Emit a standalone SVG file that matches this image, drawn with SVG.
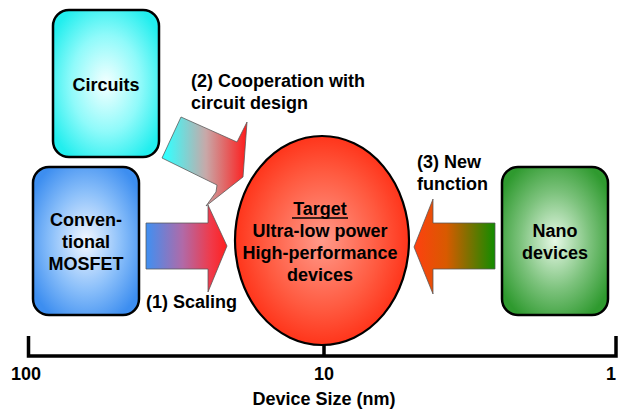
<svg xmlns="http://www.w3.org/2000/svg" width="619" height="410" viewBox="0 0 619 410">
  <defs>
    <radialGradient id="gCyan" cx="50%" cy="50%" r="60%">
      <stop offset="0" stop-color="#f4ffff"/>
      <stop offset="0.55" stop-color="#8ffafa"/>
      <stop offset="1" stop-color="#22eeee"/>
    </radialGradient>
    <radialGradient id="gBlue" cx="50%" cy="50%" r="60%">
      <stop offset="0" stop-color="#f2f7ff"/>
      <stop offset="0.55" stop-color="#8cc0fa"/>
      <stop offset="1" stop-color="#3d8ef0"/>
    </radialGradient>
    <radialGradient id="gGreen" cx="50%" cy="50%" r="60%">
      <stop offset="0" stop-color="#e6f8e6"/>
      <stop offset="0.55" stop-color="#7cc27c"/>
      <stop offset="1" stop-color="#2f9a2f"/>
    </radialGradient>
    <radialGradient id="gRed" cx="50%" cy="50%" r="55%">
      <stop offset="0" stop-color="#ff9a8a"/>
      <stop offset="0.6" stop-color="#ff5a40"/>
      <stop offset="1" stop-color="#ff2a10"/>
    </radialGradient>
    <linearGradient id="gScale" x1="146" y1="0" x2="227" y2="0" gradientUnits="userSpaceOnUse">
      <stop offset="0" stop-color="#3f90f2"/>
      <stop offset="0.45" stop-color="#b06aa8"/>
      <stop offset="0.8" stop-color="#f03a4a"/>
      <stop offset="1" stop-color="#ff2020"/>
    </linearGradient>
    <linearGradient id="gCoop" x1="165" y1="0" x2="247" y2="0" gradientUnits="userSpaceOnUse">
      <stop offset="0" stop-color="#33ffff"/>
      <stop offset="0.5" stop-color="#c8a8a8"/>
      <stop offset="1" stop-color="#ff1a1a"/>
    </linearGradient>
    <linearGradient id="gNew" x1="414" y1="0" x2="495" y2="0" gradientUnits="userSpaceOnUse">
      <stop offset="0" stop-color="#ff4010"/>
      <stop offset="0.4" stop-color="#d85a00"/>
      <stop offset="1" stop-color="#128c00"/>
    </linearGradient>
  </defs>
  <style>
    .box { stroke: #000; stroke-width: 2.5; }
    .arrow { stroke: #555; stroke-width: 0.75; }
    text { font-family: "Liberation Sans", Arial, sans-serif; font-weight: bold; font-size: 18px; fill: #000; }
    .c { text-anchor: middle; }
    .axis { stroke: #000; stroke-width: 3.5; fill: none; }
  </style>

  <!-- connectors: block arrows with their labels -->
  <g id="connectors">
    <polygon class="arrow" fill="url(#gScale)" points="146,223 208,223 208,205 227,246 208,292 208,269 146,269"/>
    <polygon class="arrow" fill="url(#gCoop)" points="181,117 237,142 247,122 243,177 206,206 216,192 217,185 162,158"/>
    <polygon class="arrow" fill="url(#gNew)" stroke="none" points="495,223 433,223 433,199 414,247 433,294 433,269 495,269"/>
    <text x="146" y="308">(1) Scaling</text>
    <text x="191" y="87">(2) Cooperation with</text>
    <text x="191" y="109">circuit design</text>
    <text x="417" y="168">(3) New</text>
    <text x="417" y="190">function</text>
  </g>

  <g id="circuits">
    <rect class="box" x="53" y="10" width="106" height="147" rx="16" fill="url(#gCyan)"/>
    <text class="c" x="106" y="91">Circuits</text>
  </g>

  <g id="mosfet">
    <rect class="box" x="33" y="167" width="106" height="148" rx="16" fill="url(#gBlue)"/>
    <text class="c" x="86" y="226">Conven-</text>
    <text class="c" x="86" y="248">tional</text>
    <text class="c" x="86" y="270">MOSFET</text>
  </g>

  <g id="nano">
    <rect class="box" x="502" y="167" width="106" height="148" rx="16" fill="url(#gGreen)"/>
    <text class="c" x="555" y="237">Nano</text>
    <text class="c" x="555" y="259">devices</text>
  </g>

  <g id="target">
    <ellipse cx="322" cy="240.5" rx="87" ry="104.5" fill="url(#gRed)" stroke="#000" stroke-width="2.2"/>
    <text class="c" x="320" y="215">Target</text>
    <line x1="292" y1="218" x2="348" y2="218" stroke="#000" stroke-width="1.5"/>
    <text class="c" x="320" y="237">Ultra-low power</text>
    <text class="c" x="320" y="259">High-performance</text>
    <text class="c" x="320" y="281">devices</text>
  </g>

  <g id="axis">
    <polyline class="axis" points="28.5,336 28.5,356 616,356 616,336"/>
    <line class="axis" x1="324" y1="345" x2="324" y2="356"/>
    <text class="c" x="26" y="380">100</text>
    <text class="c" x="324" y="380">10</text>
    <text class="c" x="611" y="380">1</text>
    <text class="c" x="324" y="405">Device Size (nm)</text>
  </g>
</svg>
